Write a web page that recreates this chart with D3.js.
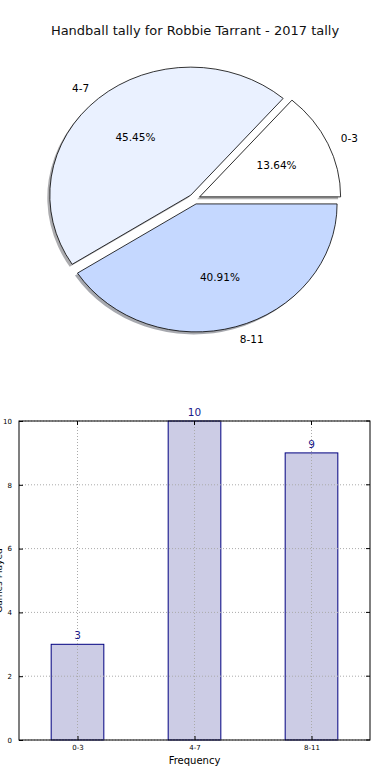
<!DOCTYPE html>
<html>
<head>
<meta charset="utf-8">
<script src="https://cdn.jsdelivr.net/npm/d3@7"></script>
<style>
    body { margin: 0; background: #fff; }
    svg { display: block; font-family: "DejaVu Sans", sans-serif; }
</style>
</head>
<body>
<div id="chart"></div>
<script>
// data
const categories = ["0-3", "4-7", "8-11"];
const counts = [3, 10, 9];
const sliceColors = ["#ffffff", "#eaf1ff", "#c5d8ff"];
const yTicks = [0, 2, 4, 6, 8, 10];

const width = 390, height = 780;

const svg = d3.select("#chart").append("svg")
    .attr("width", width)
    .attr("height", height);

/* * * * * * * * * *
*       Pie        *
* * * * * * * * * */

svg.append("text")
    .attr("x", 195)
    .attr("y", 35)
    .attr("text-anchor", "middle")
    .attr("font-size", 13)
    .attr("fill", "#111")
    .text("Handball tally for Robbie Tarrant - 2017 tally");

// matplotlib pie: starts at 3 o'clock, goes counterclockwise
const cx = 194.5, cy = 199, rx = 141, ry = 128;
const explode = 0.04;
const total = d3.sum(counts);

const pie = d3.pie()
    .sort(null)
    .startAngle(Math.PI / 2)
    .endAngle(Math.PI / 2 - 2 * Math.PI);

const arcs = pie(counts);
const arc = d3.arc().innerRadius(0).outerRadius(rx);

const pieG = svg.append("g")
    .attr("transform", `translate(${cx},${cy})`);

// shadow first, then wedges
arcs.forEach((d, i) => {
    let mid = (d.startAngle + d.endAngle) / 2;
    let dx = explode * rx * Math.sin(mid);
    let dy = -explode * ry * Math.cos(mid);
    let c = d3.rgb(sliceColors[i]);
    pieG.append("path")
        .attr("d", arc(d))
        .attr("transform", `translate(${dx - 2.5},${dy + 2.5}) scale(1,${ry / rx})`)
        .attr("fill", d3.rgb(c.r * 0.3, c.g * 0.3, c.b * 0.3))
        .attr("fill-opacity", 0.45);
});

arcs.forEach((d, i) => {
    let mid = (d.startAngle + d.endAngle) / 2;
    let sx = Math.sin(mid), sy = -Math.cos(mid);
    let dx = explode * rx * sx;
    let dy = explode * ry * sy;

    pieG.append("path")
        .attr("d", arc(d))
        .attr("transform", `translate(${dx},${dy}) scale(1,${ry / rx})`)
        .attr("fill", sliceColors[i])
        .attr("stroke", "#000")
        .attr("stroke-width", 0.8)
        .attr("vector-effect", "non-scaling-stroke")
        .attr("stroke-linejoin", "round");

    // category label at 1.1 r
    pieG.append("text")
        .attr("x", dx + 1.1 * rx * sx)
        .attr("y", dy + 1.1 * ry * sy)
        .attr("dy", "0.35em")
        .attr("text-anchor", sx < 0 ? "end" : "start")
        .attr("font-size", 10.5)
        .attr("fill", "#000")
        .text(categories[i]);

    // percentage at 0.6 r
    pieG.append("text")
        .attr("x", dx + 0.6 * rx * sx)
        .attr("y", dy + 0.6 * ry * sy)
        .attr("dy", "0.35em")
        .attr("text-anchor", "middle")
        .attr("font-size", 10.5)
        .attr("fill", "#000")
        .text((counts[i] / total * 100).toFixed(2) + "%");
});

/* * * * * * * * * *
*       Bars       *
* * * * * * * * * */

const margin = {top: 421, right: 20, bottom: 40, left: 19};
const plotW = width - margin.left - margin.right;
const plotH = height - margin.top - margin.bottom;

const g = svg.append("g")
    .attr("transform", `translate(${margin.left},${margin.top})`);

const x = d3.scaleLinear()
    .domain([-0.5, categories.length - 0.5])
    .range([0, plotW]);

const y = d3.scaleLinear()
    .domain([0, 10])
    .range([plotH, 0]);

const barW = 0.45;

g.selectAll(".bar")
    .data(counts)
    .enter().append("rect")
    .attr("class", "bar")
    .attr("x", (d, i) => x(i - barW / 2))
    .attr("y", d => y(d))
    .attr("width", x(barW) - x(0))
    .attr("height", d => plotH - y(d))
    .attr("fill", "#ccccE5")
    .attr("stroke", "#000080")
    .attr("stroke-width", 1);

// grid on top (classic style)
g.selectAll(".ygrid")
    .data(yTicks)
    .enter().append("line")
    .attr("x1", 0).attr("x2", plotW)
    .attr("y1", d => y(d)).attr("y2", d => y(d))
    .attr("stroke", "#aaa")
    .attr("stroke-width", 1)
    .attr("stroke-dasharray", "1,2");

g.selectAll(".xgrid")
    .data(categories)
    .enter().append("line")
    .attr("x1", (d, i) => x(i)).attr("x2", (d, i) => x(i))
    .attr("y1", 0).attr("y2", plotH)
    .attr("stroke", "#aaa")
    .attr("stroke-width", 1)
    .attr("stroke-dasharray", "1,2");

// value labels
g.selectAll(".val")
    .data(counts)
    .enter().append("text")
    .attr("x", (d, i) => x(i))
    .attr("y", d => y(d) - 5)
    .attr("text-anchor", "middle")
    .attr("font-size", 10.5)
    .attr("fill", "#1a1a8a")
    .text(d => d);

// axes
const xAxis = d3.axisBottom(x)
    .tickValues(d3.range(categories.length))
    .tickFormat(i => categories[i])
    .tickSizeInner(-4)
    .tickSizeOuter(0)
    .tickPadding(5);

const yAxis = d3.axisLeft(y)
    .tickValues(yTicks)
    .tickSizeInner(-4)
    .tickSizeOuter(0)
    .tickPadding(7);

g.append("g")
    .attr("transform", `translate(0,${plotH})`)
    .call(xAxis)
    .call(a => a.select(".domain").remove())
    .call(a => a.selectAll("text").attr("font-size", 7).attr("fill", "#000").attr("font-family", "DejaVu Sans"))
    .call(a => a.selectAll("line").attr("stroke", "#000"));

g.append("g")
    .call(yAxis)
    .call(a => a.select(".domain").remove())
    .call(a => a.selectAll("text").attr("font-size", 7).attr("fill", "#000").attr("font-family", "DejaVu Sans"))
    .call(a => a.selectAll("line").attr("stroke", "#000"));

// ticks on top / right
g.selectAll(".ttick")
    .data(categories)
    .enter().append("line")
    .attr("x1", (d, i) => x(i)).attr("x2", (d, i) => x(i))
    .attr("y1", 0).attr("y2", 4)
    .attr("stroke", "#000");

g.selectAll(".rtick")
    .data(yTicks)
    .enter().append("line")
    .attr("x1", plotW - 4).attr("x2", plotW)
    .attr("y1", d => y(d)).attr("y2", d => y(d))
    .attr("stroke", "#000");

// frame
g.append("rect")
    .attr("width", plotW)
    .attr("height", plotH)
    .attr("fill", "none")
    .attr("stroke", "#000")
    .attr("stroke-width", 1);

svg.append("text")
    .attr("x", margin.left + plotW / 2)
    .attr("y", 764)
    .attr("text-anchor", "middle")
    .attr("font-size", 10)
    .attr("fill", "#000")
    .text("Frequency");

// y label sits mostly off the left edge, as in the source image
svg.append("text")
    .attr("transform", `translate(2,${margin.top + plotH / 2}) rotate(-90)`)
    .attr("text-anchor", "middle")
    .attr("font-size", 9)
    .attr("fill", "#000")
    .text("Games Played");
</script>
</body>
</html>
